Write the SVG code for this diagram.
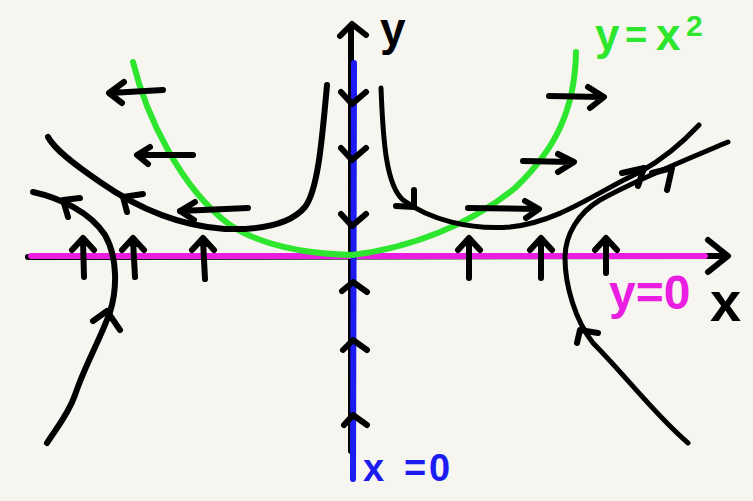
<svg xmlns="http://www.w3.org/2000/svg" width="753" height="501" viewBox="0 0 753 501">
<style>
.k{fill:none;stroke:#000;stroke-width:6;stroke-linecap:round;stroke-linejoin:round}
.kt{fill:none;stroke:#000;stroke-width:5;stroke-linecap:round;stroke-linejoin:round}
.kb{fill:none;stroke:#000;stroke-width:6;stroke-linecap:round;stroke-linejoin:round}
.g{fill:none;stroke:#2ee62e;stroke-width:6;stroke-linecap:round}
.m{fill:none;stroke:#ea1ee0;stroke-width:6;stroke-linecap:round}
.b{fill:none;stroke:#1b1bf2;stroke-width:6;stroke-linecap:round}
.t{font-family:"Liberation Sans",Arial,sans-serif;font-weight:bold}
</style>
<rect width="753" height="501" fill="#f6f5f0"/>
<g id="axes">
<path class="kb" d="M351,26 L351,451"/>
<path class="kb" d="M340,36 L352,24 L366,35"/>
<path class="kb" d="M28,257 L727,256"/>
<path class="kb" d="M708,240 L728,256 L708,272"/>
<path class="m" d="M31,256 L705,256"/>
<path class="b" d="M354,63 L353,479"/>
</g>
<g id="parabola">
<path class="g" d="M133,62 C146,115 180,188 230,225 C265,248 310,254 352,255"/>
<path class="g" d="M352,255 C410,248 470,225 515,188 C555,150 575,110 576,52"/>
</g>
<g id="trajectories">
<path class="k" d="M327,85 C322,140 318,190 305,207 C290,225 260,230 225,229 C180,226 140,210 100,182 C75,165 55,150 48,137"/>
<path class="k" d="M143,194 L123,197 L127,212"/>
<path class="k" d="M33,192 C60,198 90,212 105,235 C118,258 117,290 110,312 C100,340 85,365 75,395 C68,415 55,430 47,443"/>
<path class="k" d="M80,198 L63,200 L68,217"/>
<path class="k" d="M93,321 L107,311 L120,330"/>
<path class="kt" d="M381,88 C383,140 386,185 403,200 C430,220 470,230 510,227 C560,222 600,190 640,172 C665,158 685,140 699,125"/>
<path class="k" d="M414,190 L414,207 L396,206"/>
<path class="k" d="M622,173 L644,168 L638,186"/>
<path class="kt" d="M728,142 C690,158 640,178 600,200 C578,213 565,235 565,258 C565,285 575,320 593,343 C625,375 655,415 688,443"/>
<path class="k" d="M652,173 L672,168 L667,190"/>
<path class="k" d="M577,343 L580,330 L598,333"/>
</g>
<g id="field-arrows">
<path class="kb" d="M163,90 L110,93 M124,82 L109,93 L122,103"/>
<path class="kb" d="M193,155 L138,155 M150,147 L137,155 L148,164"/>
<path class="kb" d="M248,208 L180,211 M195,202 L180,211 L194,220"/>
<path class="kb" d="M549,96 L603,97 M588,87 L604,97 L590,108"/>
<path class="kb" d="M523,161 L573,162 M558,154 L574,162 L558,172"/>
<path class="kb" d="M468,208 L538,209 M525,201 L539,209 L526,218"/>
<path class="k" d="M341,92 L352,104 L366,92 M341,148 L352,160 L366,148 M341,214 L352,226 L366,214"/>
<path class="k" d="M342,291 L353,282 L367,292 M343,350 L353,340 L367,350 M344,425 L353,415 L367,425"/>
<path class="k" d="M72,250 L83,238 L94,250 M83,240 L84,277 M122,250 L133,238 L144,250 M133,240 L135,277 M192,250 L203,238 L214,250 M203,240 L205,279"/>
<path class="k" d="M458,250 L469,238 L480,250 M469,240 L469,278 M530,250 L541,238 L552,250 M541,240 L541,278 M595,250 L606,238 L617,250 M606,240 L606,273"/>
</g>
<g id="labels">
<text class="t" x="380" y="45" font-size="46">y</text>
<text class="t" x="710" y="321" font-size="56">x</text>
<text class="t" fill="#2ee62e" font-size="44" y="50"><tspan x="595">y</tspan><tspan x="625" font-size="38" y="48">=</tspan><tspan x="656" y="50">x</tspan><tspan x="686" y="36" font-size="30">2</tspan></text>
<text class="t" fill="#ea1ee0" font-size="48" x="609" y="309">y=0</text>
<text class="t" fill="#1b1bf2" font-size="38" y="481"><tspan x="363">x</tspan><tspan x="404">=</tspan><tspan x="429">0</tspan></text>
</g>
</svg>
